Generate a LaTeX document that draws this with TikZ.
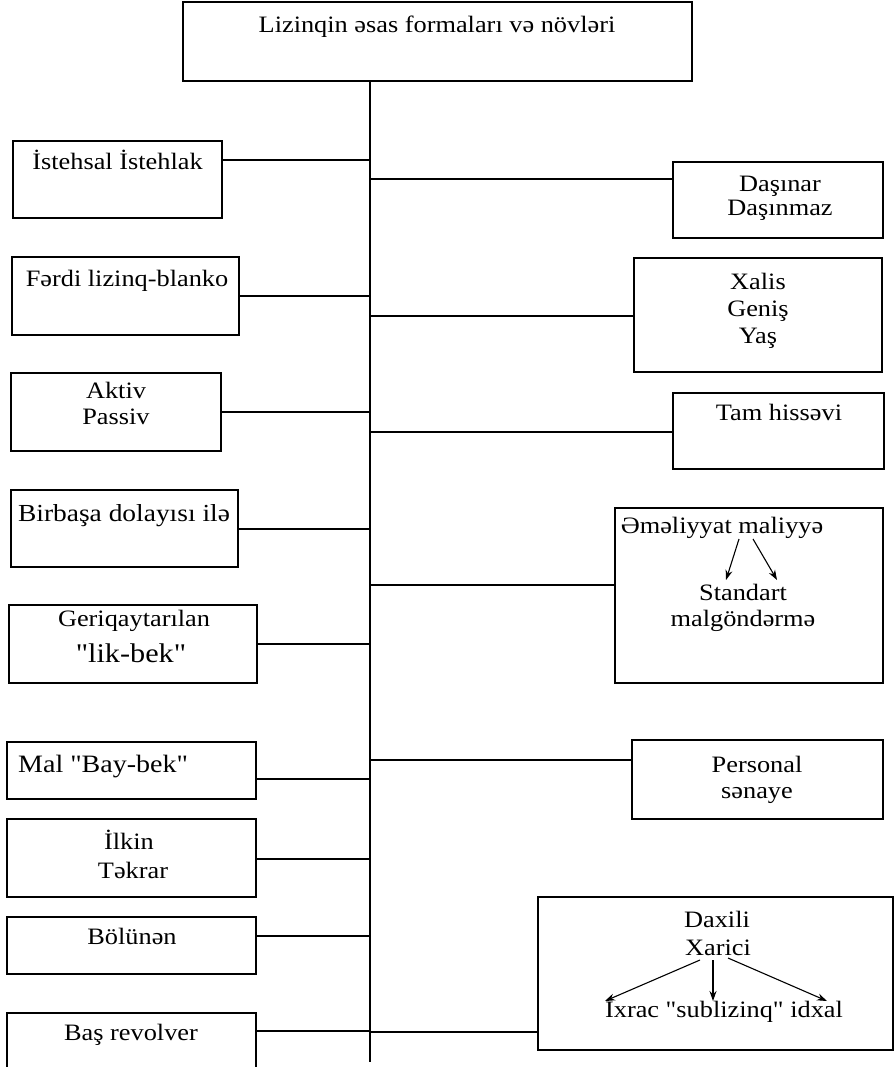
\documentclass[tikz,border=0pt]{standalone}
\usepackage{fontspec}
\setmainfont{Liberation Serif}[FakeStretch=1.12, Ligatures=TeXOff]
\usetikzlibrary{arrows.meta}
\begin{document}
\begin{tikzpicture}[x=1pt,y=-1pt,
  box/.style={draw, line width=1.2pt, rectangle, inner sep=0pt},
  txt/.style={anchor=base, inner sep=0pt, font=\fontsize{23.5}{27}\selectfont},
  link/.style={line width=1.2pt},
  arr/.style={line width=1.1pt, -{Stealth[length=10pt,width=7pt]}}]
\useasboundingbox (0,0) rectangle (895,1067);
\clip (0,0) rectangle (895,1067);

% title box
\node[box, minimum width=509, minimum height=79] (T) at (437.5,41.5) {};
\node[txt] (tT) at (437,33) {Lizinqin əsas formaları və növləri};

% left column
\node[box, minimum width=209, minimum height=77] (L1) at (117.5,179.5) {};
\node[txt] (tL1) at (117.5,170) {İstehsal İstehlak};

\node[box, minimum width=227, minimum height=78] (L2) at (125.5,296) {};
\node[txt] (tL2) at (127,286) {Fərdi lizinq-blanko};

\node[box, minimum width=210, minimum height=78] (L3) at (116,412) {};
\node[txt] (tL3a) at (116,398) {Aktiv};
\node[txt] (tL3b) at (116,424) {Passiv};

\node[box, minimum width=227, minimum height=77] (L4) at (124.5,528.5) {};
\node[txt, font=\fontsize{24.5}{27}\selectfont] (tL4) at (124,521) {Birbaşa dolayısı ilə};

\node[box, minimum width=248, minimum height=78] (L5) at (133,644) {};
\node[txt] (tL5a) at (134,626) {Geriqaytarılan};
\node[txt, font=\fontsize{27}{30}\selectfont] (tL5b) at (131,662) {"lik-bek"};

\node[box, minimum width=249, minimum height=57] (L6) at (131.5,770.5) {};
\node[txt, anchor=base west, font=\fontsize{25}{28}\selectfont] (tL6) at (18,772) {Mal "Bay-bek"};

\node[box, minimum width=249, minimum height=78] (L7) at (131.5,858) {};
\node[txt] (tL7a) at (129,849) {İlkin};
\node[txt] (tL7b) at (133,878) {Təkrar};

\node[box, minimum width=249, minimum height=57] (L8) at (131.5,945.5) {};
\node[txt] (tL8) at (132,944) {Bölünən};

\node[box, minimum width=249, minimum height=77] (L9) at (131.5,1051.5) {};
\node[txt] (tL9) at (131,1040) {Baş revolver};

% right column
\node[box, minimum width=210, minimum height=76] (R1) at (778,200) {};
\node[txt] (tR1a) at (780,192) {Daşınar};
\node[txt] (tR1b) at (780,216) {Daşınmaz};

\node[box, minimum width=248, minimum height=114] (R2) at (758,315) {};
\node[txt] (tR2a) at (758,289) {Xalis};
\node[txt] (tR2b) at (758,316) {Geniş};
\node[txt] (tR2c) at (758,343) {Yaş};

\node[box, minimum width=211, minimum height=76] (R3) at (778.5,431) {};
\node[txt] (tR3) at (779,420) {Tam hissəvi};

\node[box, minimum width=268, minimum height=175] (R4) at (749,595.5) {};
\node[txt] (tR4a) at (722,533) {Əməliyyat maliyyə};
\node[txt] (tR4b) at (743,600) {Standart};
\node[txt] (tR4c) at (743,626) {malgöndərmə};
\coordinate (a1s) at (739,539);
\coordinate (a1e) at (726,580);
\coordinate (a2s) at (753,539);
\coordinate (a2e) at (777,580);
\draw[arr] (a1s) -- (a1e);
\draw[arr] (a2s) -- (a2e);

\node[box, minimum width=251, minimum height=79] (R5) at (757.5,779.5) {};
\node[txt] (tR5a) at (757,772) {Personal};
\node[txt] (tR5b) at (757,798) {sənaye};

\node[box, minimum width=355, minimum height=153] (R6) at (715.5,973.5) {};
\node[txt] (tR6a) at (717,927) {Daxili};
\node[txt] (tR6b) at (718,955) {Xarici};
\node[txt] (tR6c) at (724,1017) {İxrac "sublizinq" idxal};
\coordinate (b1s) at (700,960);
\coordinate (b1e) at (605,1001);
\coordinate (b2s) at (713,960);
\coordinate (b2e) at (713,1001);
\coordinate (b3s) at (728,958);
\coordinate (b3e) at (827,1001);
\draw[arr] (b1s) -- (b1e);
\draw[arr] (b2s) -- (b2e);
\draw[arr] (b3s) -- (b3e);

% trunk
\coordinate (tend) at (370,1062);
\draw[link] (tend |- T.south) -- (tend);

% branches to the left column
\foreach \n/\yy in {L1/160, L2/296, L3/412, L4/529, L5/644, L6/779, L7/859, L8/936, L9/1031}{
  \coordinate (j\n) at (370,\yy);
  \draw[link] (j\n) -- (j\n -| \n.east);
}
% branches to the right column
\foreach \n/\yy in {R1/179, R2/316, R3/432, R4/585, R5/760, R6/1032}{
  \coordinate (j\n) at (370,\yy);
  \draw[link] (j\n) -- (j\n -| \n.west);
}
\end{tikzpicture}
\end{document}
